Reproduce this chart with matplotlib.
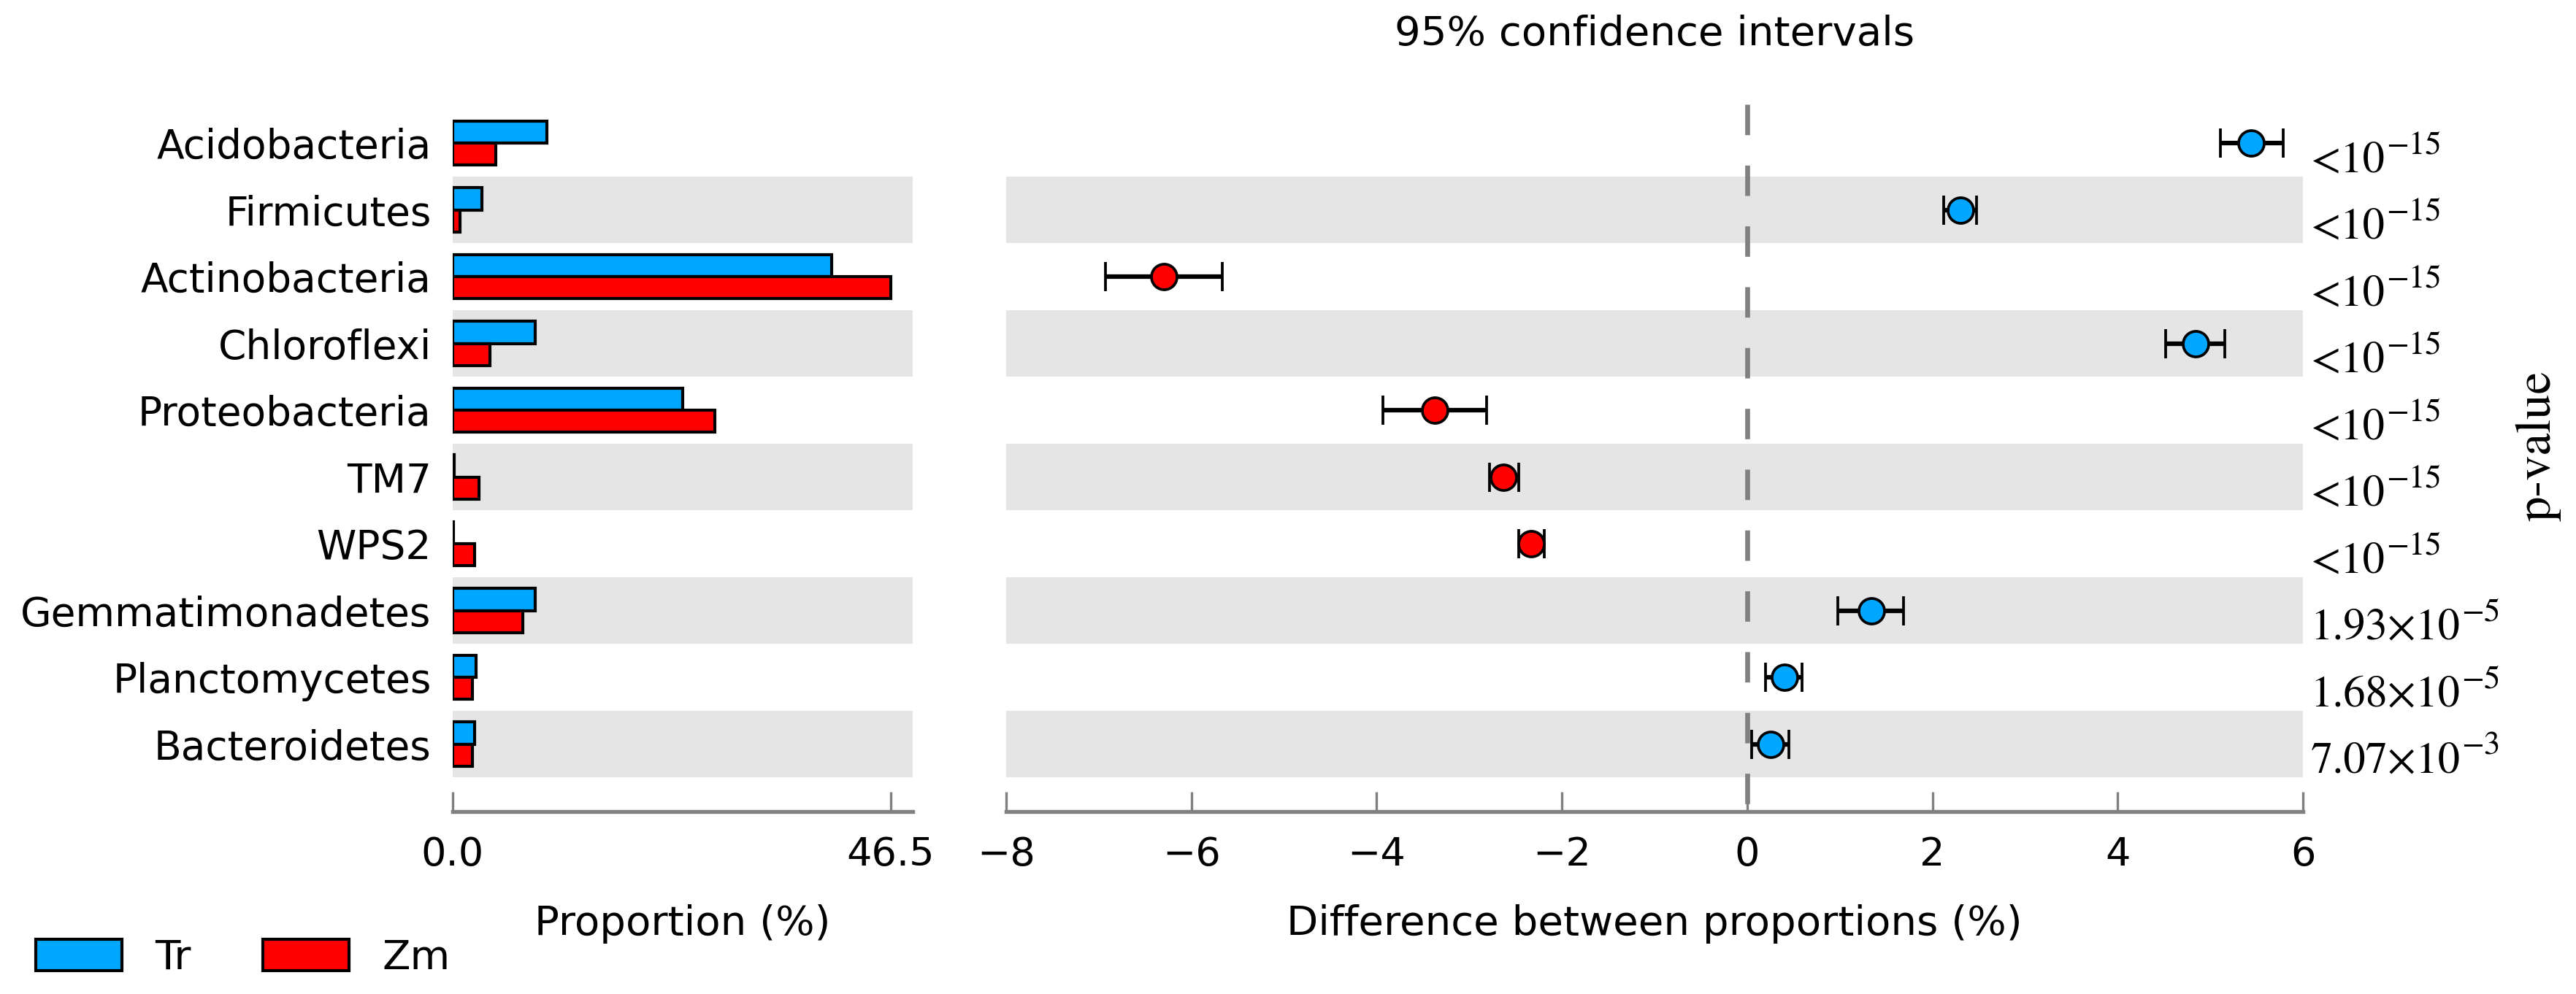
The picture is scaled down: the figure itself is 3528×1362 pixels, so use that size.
import matplotlib.pyplot as plt
import numpy as np

taxa = ['Acidobacteria', 'Firmicutes', 'Actinobacteria', 'Chloroflexi',
        'Proteobacteria', 'TM7', 'WPS2', 'Gemmatimonadetes',
        'Planctomycetes', 'Bacteroidetes']
tr_prop = [10.0, 3.1, 40.2, 8.8, 24.4, 0.15, 0.05, 8.8, 2.5, 2.35]
zm_prop = [4.6, 0.8, 46.5, 3.95, 27.8, 2.8, 2.35, 7.45, 2.1, 2.1]
diff = [5.44, 2.30, -6.30, 4.84, -3.37, -2.63, -2.33, 1.34, 0.40, 0.25]
ci_low = [5.11, 2.12, -6.93, 4.52, -3.93, -2.78, -2.47, 0.98, 0.20, 0.05]
ci_high = [5.79, 2.48, -5.67, 5.16, -2.81, -2.47, -2.19, 1.69, 0.59, 0.45]
# p-values as base + exponent
p_base = ['<10'] * 7 + ['1.93×10', '1.68×10', '7.07×10']
p_exp = ['\u221215'] * 7 + ['\u22125', '\u22125', '\u22123']
groups = ['Tr', 'Zm']

blue = '#00a6ff'
red = '#ff0000'
band = '#e5e5e5'
spine_gray = '#808080'

fig = plt.figure(figsize=(11.76, 4.54), dpi=300)
ax1 = fig.add_axes([0.1757, 0.1836, 0.1786, 0.7114])
ax2 = fig.add_axes([0.3906, 0.1836, 0.5034, 0.7114])

y = np.arange(len(taxa))
y_top, y_bottom = -0.58, 10.01

for ax in (ax1, ax2):
  for i in y[1::2]:
    ax.axhspan(i - 0.5, i + 0.5, color=band, lw=0, zorder=0)
  ax.set_ylim(y_bottom, y_top)
  for side in ('top', 'left', 'right'):
    ax.spines[side].set_visible(False)
  ax.spines['bottom'].set_color(spine_gray)
  ax.spines['bottom'].set_linewidth(1.3)
  ax.tick_params(axis='x', direction='in', length=6.5, width=0.8,
                 color=spine_gray, pad=8, labelsize=13)

# left panel: proportions
h = 0.33
bars_tr = ax1.barh(y - h / 2, tr_prop, height=h, color=blue,
                   edgecolor='black', linewidth=1.0, zorder=2)
bars_zm = ax1.barh(y + h / 2, zm_prop, height=h, color=red,
                   edgecolor='black', linewidth=1.0, zorder=2)
max_prop = max(max(tr_prop), max(zm_prop))
ax1.set_xlim(0, max_prop * 1.05)
ax1.set_xticks([0, max_prop])
ax1.set_xticklabels(['0.0', '%.1f' % max_prop])
ax1.set_yticks(y)
ax1.set_yticklabels(taxa)
ax1.tick_params(axis='y', length=0, pad=7, labelsize=13.2)
ax1.set_xlabel('Proportion (%)', fontsize=13.5, labelpad=10)

# right panel: difference with 95% CI
ax2.plot([0, 0], [y_top, y_bottom], color=spine_gray, lw=1.6,
         linestyle=(0, (6.25, 6.25)), zorder=1)
for i in y:
  col = blue if diff[i] > 0 else red
  ax2.errorbar(diff[i], i,
               xerr=[[diff[i] - ci_low[i]], [ci_high[i] - diff[i]]],
               fmt='o', color='black', ecolor='black', elinewidth=1.5,
               capsize=4.9, capthick=0.8, markersize=8.4,
               markerfacecolor=col, markeredgecolor='black',
               markeredgewidth=0.9, zorder=3)
ax2.set_xlim(-8, 6)
ax2.set_xticks(np.arange(-8, 7, 2))
ax2.set_yticks([])
ax2.set_xlabel('Difference between proportions (%)', fontsize=13.5,
               labelpad=10)

ytrans = ax2.get_yaxis_transform()
for i in y:
  t = ax2.text(1.006, i + 0.43, p_base[i], transform=ytrans,
               ha='left', va='baseline', fontsize=14.5, family='STIXGeneral')
  ax2.annotate(p_exp[i], xy=(1, i + 0.43), xycoords=(t, ytrans),
               xytext=(0.3, 6), textcoords='offset points',
               ha='left', va='baseline', fontsize=10.8, family='STIXGeneral',
               annotation_clip=False)

fig.text(0.6424, 0.9655, '95% confidence intervals', ha='center',
         va='center', fontsize=13.5)
fig.text(0.9853, 0.5514, 'p-value', rotation=90, ha='center', va='center',
         fontsize=16.5, family='STIXGeneral')

fig.legend([bars_tr, bars_zm], groups, loc='lower left',
           bbox_to_anchor=(49 / 3528, 1 - 1340 / 1362), ncol=2,
           frameon=False, fontsize=13.5, handlelength=2.1, handleheight=0.78,
           handletextpad=0.8, columnspacing=1.75, borderpad=0,
           borderaxespad=0)

fig.savefig('out.png', dpi=300)
